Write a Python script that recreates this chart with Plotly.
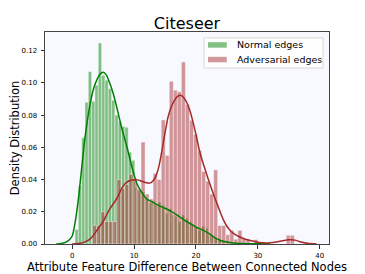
import numpy as np
import plotly.graph_objects as go

title_text = "Citeseer"
x_label = "Attribute Feature Difference Between Connected Nodes"
y_label = "Density Distribution"
series_names = ["Normal edges", "Adversarial edges"]

# Histogram of normal edges (50 bins)
normal_bin_start = 0.45
normal_bin_width = 0.5375
normal_density = [
    0.009, 0.036, 0.066, 0.088, 0.107, 0.0886, 0.0986, 0.1248, 0.1047, 0.1017,
    0.0965, 0.0892, 0.080, 0.076, 0.073, 0.0725, 0.057, 0.052, 0.035, 0.033,
    0.0323, 0.0276, 0.0255, 0.027, 0.024, 0.026, 0.024, 0.019, 0.022, 0.018,
    0.017, 0.014, 0.018, 0.016, 0.014, 0.012, 0.010, 0.0085, 0.011, 0.0098,
    0.0055, 0.005, 0.0035, 0.0025, 0.002, 0.0015, 0.001, 0.0008, 0.0005, 0.0005,
]

# Histogram of adversarial edges (50 bins)
adv_bin_start = 3.3
adv_bin_width = 0.652
adv_density = [
    0.0116, 0.0116, 0.020, 0.014, 0.014, 0.014, 0.040, 0.0344, 0.037, 0.0433,
    0.0406, 0.034, 0.0633, 0.031, 0.028, 0.0437, 0.040, 0.077, 0.055, 0.101,
    0.0955, 0.0945, 0.113, 0.0866, 0.0768, 0.068, 0.058, 0.045, 0.039, 0.031,
    0.046, 0.0115, 0.0115, 0.0058, 0.0085, 0.003, 0.0085, 0.0033, 0.0028, 0.0,
    0.0027, 0.0, 0.0, 0.0, 0.0, 0.0, 0.0, 0.0, 0.0054, 0.0054,
]

# KDE curves
normal_kde_x = [-2.6, -2, -1, -0.5, 0, 0.5, 1, 1.5, 2, 2.5, 3, 3.5, 4, 4.5, 5, 5.5, 6,
                6.5, 7, 7.5, 8, 8.5, 9, 9.5, 10, 10.5, 11, 12, 13, 14, 15, 16, 17,
                18, 19, 20, 21, 22, 23, 24, 25, 26, 28, 30, 32]
normal_kde_y = [0.0, 0.0002, 0.0012, 0.0025, 0.005, 0.014, 0.028, 0.046, 0.064, 0.078,
                0.089, 0.097, 0.102, 0.1055, 0.1066, 0.105, 0.1005, 0.095, 0.088, 0.080,
                0.072, 0.065, 0.058, 0.050, 0.043, 0.037, 0.0335, 0.028, 0.026, 0.0238,
                0.0222, 0.0203, 0.0178, 0.0152, 0.0128, 0.0105, 0.0088, 0.0068, 0.004,
                0.0022, 0.0012, 0.0006, 0.0002, 0.0001, 0.0]

adv_kde_x = [0, 1, 2, 3, 4, 5, 6, 7, 7.5, 8, 8.5, 9, 9.5, 10, 10.5, 11, 11.5, 12, 12.5,
             13, 13.5, 14, 14.5, 15, 15.5, 16, 16.5, 17, 17.5, 18, 18.5, 19, 19.5, 20,
             20.5, 21, 21.5, 22, 22.5, 23, 23.5, 24, 24.5, 25, 25.5, 26, 27, 28, 29, 30,
             31, 32, 33, 34, 35, 35.5, 36, 37, 38, 39.5]
adv_kde_y = [0.0, 0.0003, 0.0012, 0.0035, 0.0085, 0.014, 0.0213, 0.027, 0.0305, 0.0345,
             0.0372, 0.0388, 0.0396, 0.0399, 0.0398, 0.0393, 0.0386, 0.038, 0.0378,
             0.039, 0.042, 0.048, 0.058, 0.069, 0.079, 0.085, 0.089, 0.0915, 0.0923,
             0.091, 0.088, 0.083, 0.076, 0.068, 0.059, 0.052, 0.046, 0.040, 0.0345,
             0.029, 0.024, 0.019, 0.0145, 0.011, 0.0085, 0.0068, 0.0045, 0.003, 0.002,
             0.0011, 0.0007, 0.0008, 0.0013, 0.002, 0.0026, 0.0027, 0.0024, 0.0012,
             0.0004, 0.0]

x_ticks = [0, 10, 20, 30, 40]
y_ticks = [0.00, 0.02, 0.04, 0.06, 0.08, 0.10, 0.12]

green_line = "#008000"
green_fill = "rgba(0,128,0,0.48)"
red_line = "#A52A2A"
red_fill = "rgba(165,42,42,0.48)"

normal_centers = normal_bin_start + normal_bin_width * (np.arange(len(normal_density)) + 0.5)
adv_centers = adv_bin_start + adv_bin_width * (np.arange(len(adv_density)) + 0.5)

fig = go.Figure()
fig.add_trace(go.Bar(x=normal_centers, y=normal_density, width=normal_bin_width,
                     marker=dict(color=green_fill, line=dict(color="rgba(255,255,255,0.7)", width=0.6)),
                     name=series_names[0], showlegend=False))
fig.add_trace(go.Bar(x=adv_centers, y=adv_density, width=adv_bin_width,
                     marker=dict(color=red_fill, line=dict(color="rgba(255,255,255,0.7)", width=0.6)),
                     name=series_names[1], showlegend=False))
fig.add_trace(go.Scatter(x=normal_kde_x, y=normal_kde_y, mode="lines",
                         line=dict(color=green_line, width=1.5, shape="spline", smoothing=0.8),
                         showlegend=False, hoverinfo="skip"))
fig.add_trace(go.Scatter(x=adv_kde_x, y=adv_kde_y, mode="lines",
                         line=dict(color=red_line, width=1.5, shape="spline", smoothing=0.8),
                         showlegend=False, hoverinfo="skip"))

axis_common = dict(
    ticks="outside", ticklen=3.5, tickwidth=0.8, tickcolor="#333",
    tickfont=dict(size=7, color="black", family="DejaVu Sans"),
    showline=True, linecolor="#444", linewidth=1, mirror=True,
    showgrid=False, zeroline=False, automargin=False,
)

# The page body adds an 8px offset, so the figure is 8px smaller than the window.
fig.update_layout(
    width=357, height=266,
    margin=dict(l=37, r=36, t=24, b=30),
    plot_bgcolor="#F8F8FF", paper_bgcolor="white",
    barmode="overlay",
    font=dict(family="DejaVu Sans", color="black"),
    title=dict(text=title_text, x=0.5, xref="paper", y=1 - 15.5 / 266, yref="container",
               xanchor="center", yanchor="middle", font=dict(size=16, color="black")),
    xaxis=dict(range=[-4.4, 41.5], tickvals=x_ticks, ticklabelstandoff=1,
               title=dict(text=x_label, font=dict(size=11.5), standoff=2), **axis_common),
    yaxis=dict(range=[0, 0.1316], tickvals=y_ticks, tickformat=".2f", ticklabelstandoff=2,
               title=dict(text=y_label, font=dict(size=11.5), standoff=3), **axis_common),
)

# Legend (box, patches, labels) in plot-area paper coordinates
fig.add_shape(type="rect", xref="paper", yref="paper", x0=0.56, x1=0.979, y0=0.83, y1=0.972,
              fillcolor="rgba(255,255,255,0.85)", line=dict(color="#d0d0d0", width=0.8))
legend_rows = [0.939, 0.870]
legend_fills = [green_fill, red_fill]
for name, yc, fill in zip(series_names, legend_rows, legend_fills):
    fig.add_shape(type="rect", xref="paper", yref="paper", x0=0.574, x1=0.640,
                  y0=yc - 0.013, y1=yc + 0.013, fillcolor=fill, line=dict(width=0))
    fig.add_annotation(text=name, xref="paper", yref="paper", x=0.669, y=yc,
                       xanchor="left", yanchor="middle", showarrow=False,
                       font=dict(size=9.5, color="black"))

fig.write_html("out.html")
